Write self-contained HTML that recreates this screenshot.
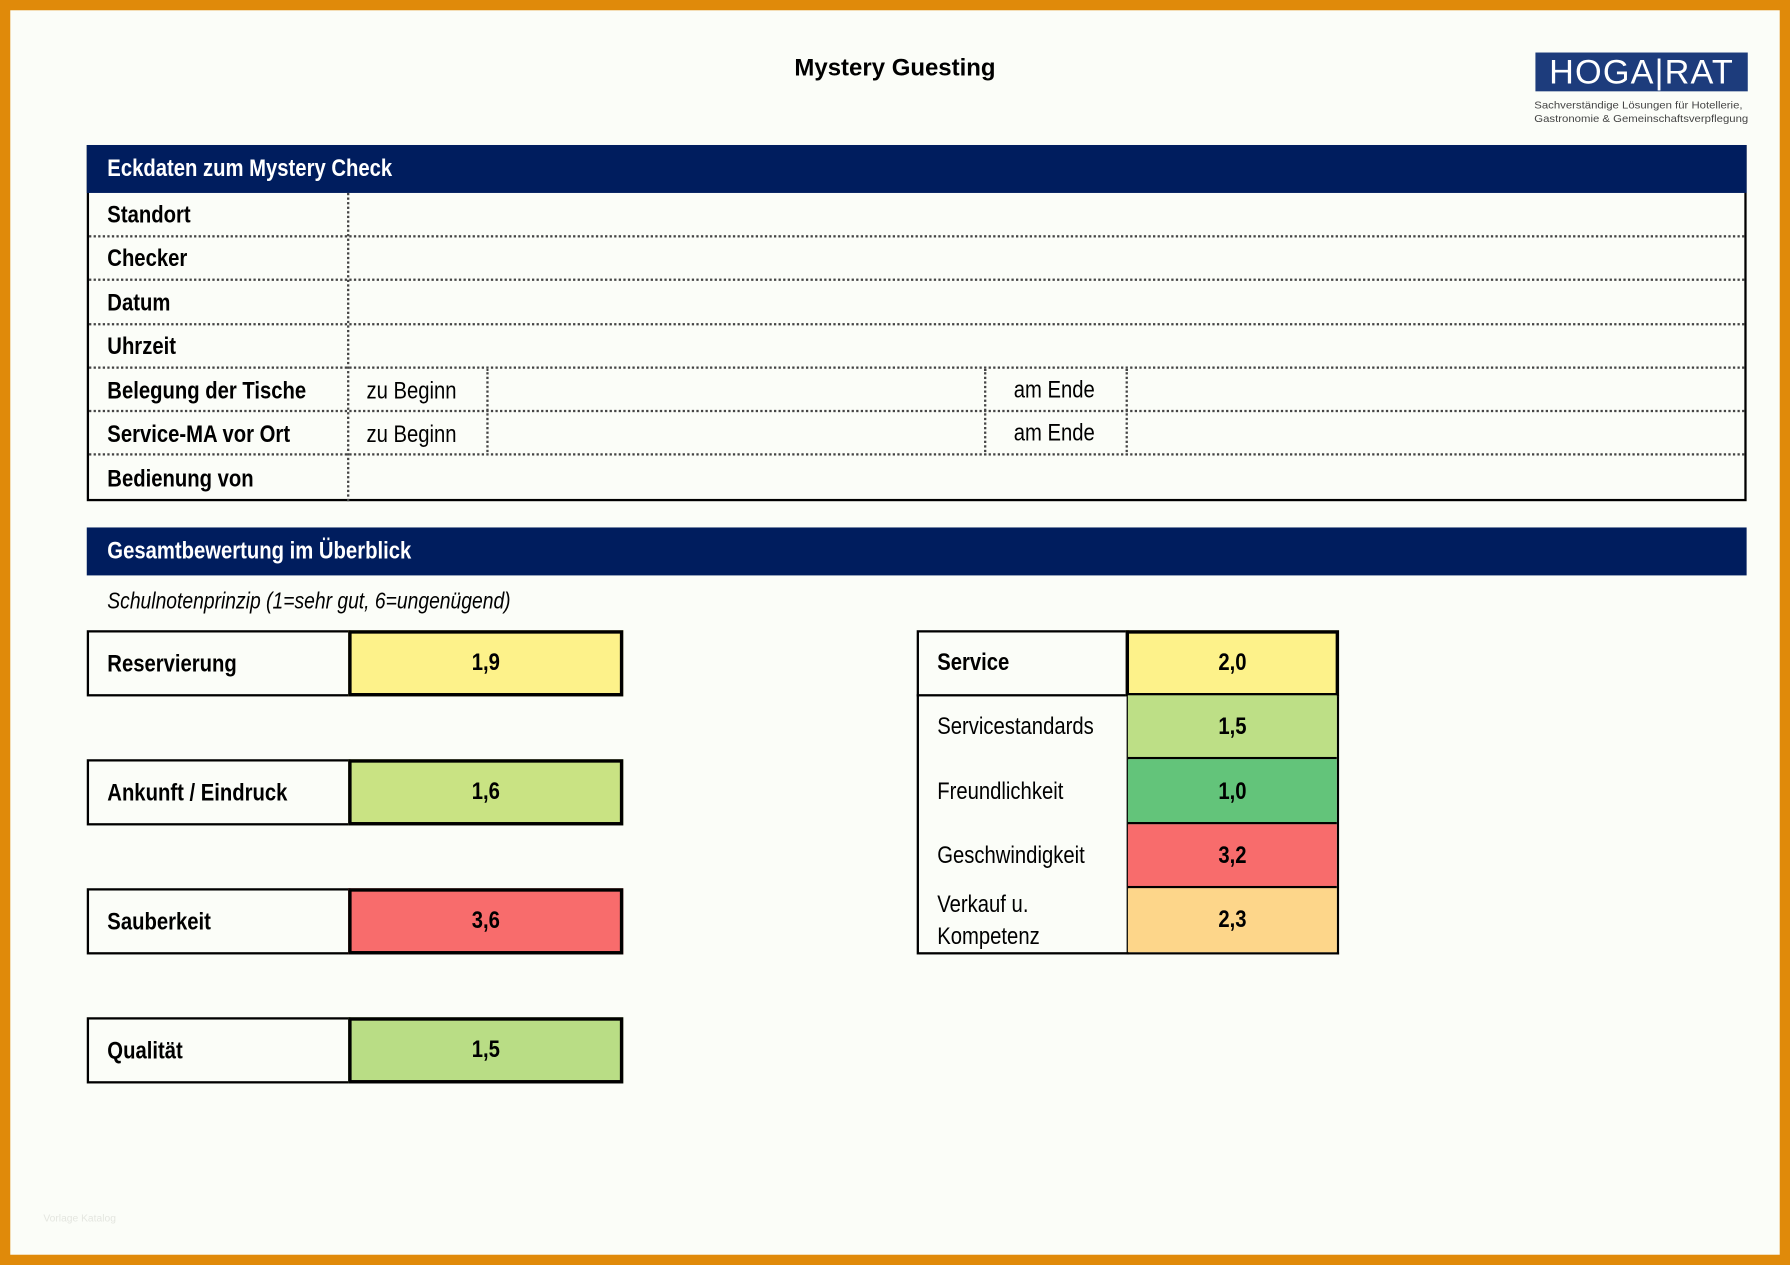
<!DOCTYPE html>
<html><head><meta charset="utf-8">
<style>
html,body{margin:0;padding:0;width:1790px;height:1265px;overflow:hidden;background:#e08a0a}
#s{position:absolute;left:0;top:0;width:1568px;height:1108px;transform:scale(1.14158,1.1417);transform-origin:0 0;}
#pg{position:absolute;left:9px;top:9px;width:1550px;height:1090px;background:#fbfdf8}
.a{position:absolute;box-sizing:border-box;white-space:nowrap}
.n{font-family:"Liberation Sans Narrow","Liberation Sans",sans-serif;font-size:21px;color:#000}
.n span{display:inline-block;transform:scaleX(.845);transform-origin:0 50%}
.v span,.c span{transform-origin:50% 50%}
.b{font-weight:bold}
.hd{background:#001d5e;color:#fff;font-weight:bold;padding-left:18px;line-height:42px}
.row{border-bottom:2px dotted #444}
.v{border:3px solid #000;text-align:center;font-weight:bold;line-height:51px}
.w{border:2px solid #000}
</style></head><body>
<div id="s">
<div id="pg"></div>
<div class="a" style="left:0;width:1568px;top:48px;text-align:center;font-family:'Liberation Sans',sans-serif;font-weight:bold;font-size:21px">Mystery Guesting</div>
<div class="a" style="left:1345px;top:46px;width:186px;height:34px;background:#1d3c7c;color:#fff;font-family:'Liberation Sans',sans-serif;font-size:30px;line-height:36px;text-align:center;letter-spacing:1px">HOGA|RAT</div>
<div class="a" style="left:1344px;top:86px;font-family:'Liberation Sans',sans-serif;font-size:8.5px;color:#444;line-height:12px;transform:scaleX(1.17);transform-origin:0 0">Sachverständige Lösungen für Hotellerie,<br>Gastronomie &amp; Gemeinschaftsverpflegung</div>

<div class="a w" style="left:76px;top:127px;width:1454px;height:312px"></div>
<div class="a n hd" style="left:76px;top:127px;width:1454px;height:42px"><span>Eckdaten zum Mystery Check</span></div>
<div class="a" style="left:304px;top:169px;height:270px;border-left:2px dotted #444"></div>
<div class="a" style="left:426px;top:323px;height:76px;border-left:2px dotted #444"></div>
<div class="a" style="left:862px;top:323px;height:76px;border-left:2px dotted #444"></div>
<div class="a" style="left:986px;top:323px;height:76px;border-left:2px dotted #444"></div>
<div class="a row n b" style="left:78px;top:169px;width:1450px;height:39px;padding-left:16px;line-height:40px"><span>Standort</span></div>
<div class="a row n b" style="left:78px;top:208px;width:1450px;height:38px;padding-left:16px;line-height:38px"><span>Checker</span></div>
<div class="a row n b" style="left:78px;top:246px;width:1450px;height:39px;padding-left:16px;line-height:40px"><span>Datum</span></div>
<div class="a row n b" style="left:78px;top:285px;width:1450px;height:38px;padding-left:16px;line-height:38px"><span>Uhrzeit</span></div>
<div class="a row n b" style="left:78px;top:323px;width:1450px;height:38px;padding-left:16px;line-height:40px"><span>Belegung der Tische</span></div>
<div class="a row n b" style="left:78px;top:361px;width:1450px;height:38px;padding-left:16px;line-height:40px"><span>Service-MA vor Ort</span></div>
<div class="a n b" style="left:78px;top:399px;width:1450px;height:38px;padding-left:16px;line-height:42px"><span>Bedienung von</span></div>
<div class="a n" style="left:321px;top:323px;line-height:40px"><span>zu Beginn</span></div>
<div class="a n" style="left:888px;top:323px;line-height:38px"><span>am Ende</span></div>
<div class="a n" style="left:321px;top:361px;line-height:40px"><span>zu Beginn</span></div>
<div class="a n" style="left:888px;top:361px;line-height:38px"><span>am Ende</span></div>

<div class="a n hd" style="left:76px;top:462px;width:1454px;height:42px"><span>Gesamtbewertung im Überblick</span></div>
<div class="a n" style="left:94px;top:516px;font-style:italic;font-size:20px"><span>Schulnotenprinzip (1=sehr gut, 6=ungenügend)</span></div>

<div class="a w n b" style="left:76px;top:552px;width:231px;height:58px;padding-left:16px;line-height:56px"><span>Reservierung</span></div>
<div class="a v n" style="left:305px;top:552px;width:241px;height:58px;background:#fdf28a"><span>1,9</span></div>
<div class="a w n b" style="left:76px;top:665px;width:231px;height:58px;padding-left:16px;line-height:56px"><span>Ankunft / Eindruck</span></div>
<div class="a v n" style="left:305px;top:665px;width:241px;height:58px;background:#c9e383"><span>1,6</span></div>
<div class="a w n b" style="left:76px;top:778px;width:231px;height:58px;padding-left:16px;line-height:56px"><span>Sauberkeit</span></div>
<div class="a v n" style="left:305px;top:778px;width:241px;height:58px;background:#f86c6c"><span>3,6</span></div>
<div class="a w n b" style="left:76px;top:891px;width:231px;height:58px;padding-left:16px;line-height:56px"><span>Qualität</span></div>
<div class="a v n" style="left:305px;top:891px;width:241px;height:58px;background:#b9dd85"><span>1,5</span></div>

<div class="a w" style="left:803px;top:552px;width:186px;height:284px"></div>
<div class="a n b" style="left:803px;top:552px;width:186px;height:58px;border-bottom:2px solid #000;padding-left:18px;line-height:58px"><span>Service</span></div>
<div class="a" style="left:987px;top:609px;width:186px;height:227px;border:2px solid #000;border-top:none"></div>
<div class="a v n" style="left:986px;top:552px;width:187px;height:58px;background:#fdf28a"><span>2,0</span></div>
<div class="a n" style="left:821px;top:609px;line-height:56px"><span>Servicestandards</span></div>
<div class="a n b c" style="left:988px;top:609px;width:183px;height:56px;background:#bddf86;text-align:center;line-height:56px;border-bottom:2px solid #000"><span>1,5</span></div>
<div class="a n" style="left:821px;top:665px;line-height:58px"><span>Freundlichkeit</span></div>
<div class="a n b c" style="left:988px;top:665px;width:183px;height:57px;background:#63c47a;text-align:center;line-height:57px;border-bottom:2px solid #000"><span>1,0</span></div>
<div class="a n" style="left:821px;top:722px;line-height:56px"><span>Geschwindigkeit</span></div>
<div class="a n b c" style="left:988px;top:722px;width:183px;height:56px;background:#f86c6c;text-align:center;line-height:56px;border-bottom:2px solid #000"><span>3,2</span></div>
<div class="a n" style="left:821px;top:779px;line-height:28px"><span>Verkauf u.<br>Kompetenz</span></div>
<div class="a n b c" style="left:988px;top:778px;width:183px;height:56px;background:#fdd68a;text-align:center;line-height:56px"><span>2,3</span></div>

<div class="a" style="left:38px;top:1062px;font-family:'Liberation Sans',sans-serif;font-size:9px;color:#e4e6e0">Vorlage Katalog</div>
</div>
</body></html>
